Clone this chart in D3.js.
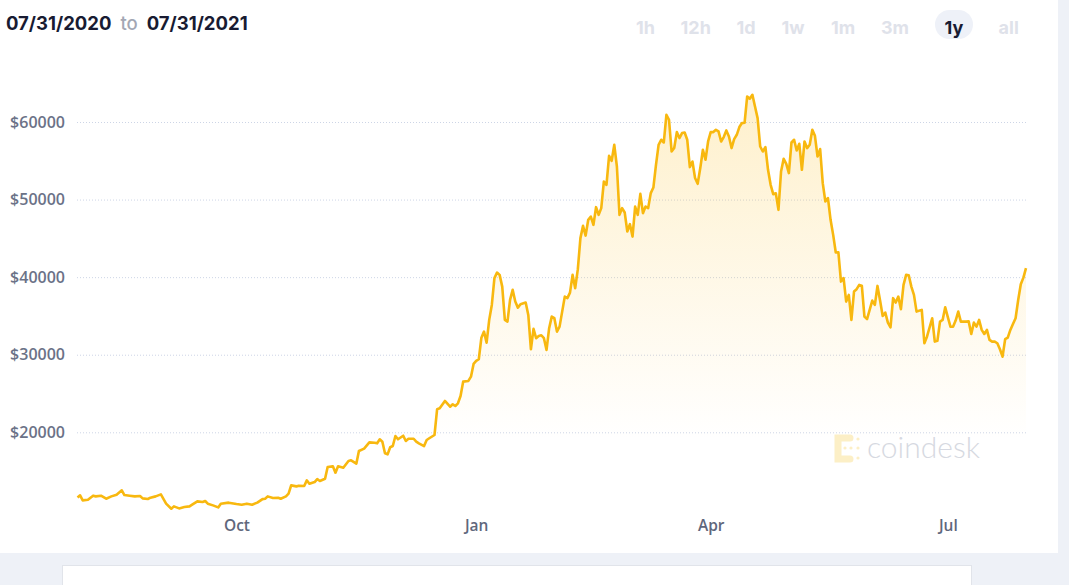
<!DOCTYPE html>
<html>
<head>
<meta charset="utf-8">
<script src="https://cdn.jsdelivr.net/npm/d3@7"></script>
<style>
  body { margin: 0; background: #eef1f7; }
  svg { display: block; }
</style>
</head>
<body>
<svg id="chart"></svg>
<script>
// BTC price, 07/31/2020 - 07/31/2021
var dates = [
  "2020-08-01","2020-08-02","2020-08-03","2020-08-05","2020-08-07","2020-08-08","2020-08-10","2020-08-12",
  "2020-08-14","2020-08-16","2020-08-18","2020-08-19","2020-08-21","2020-08-23","2020-08-25","2020-08-26",
  "2020-08-28","2020-08-29","2020-08-31","2020-09-02","2020-09-04","2020-09-06","2020-09-07","2020-09-09",
  "2020-09-11","2020-09-13","2020-09-14","2020-09-16","2020-09-18","2020-09-19","2020-09-20","2020-09-22",
  "2020-09-24","2020-09-25","2020-09-28","2020-10-01","2020-10-03","2020-10-05","2020-10-07","2020-10-09",
  "2020-10-11","2020-10-12","2020-10-13","2020-10-15","2020-10-17","2020-10-18","2020-10-20","2020-10-21",
  "2020-10-22","2020-10-24","2020-10-25","2020-10-27","2020-10-28","2020-10-29","2020-10-31","2020-11-01",
  "2020-11-02","2020-11-04","2020-11-05","2020-11-07","2020-11-08","2020-11-09","2020-11-11","2020-11-13",
  "2020-11-14","2020-11-16","2020-11-17","2020-11-19","2020-11-21","2020-11-23","2020-11-24","2020-11-25",
  "2020-11-26","2020-11-27","2020-11-28","2020-11-29","2020-11-30","2020-12-01","2020-12-02","2020-12-04",
  "2020-12-05","2020-12-06","2020-12-08","2020-12-09","2020-12-10","2020-12-12","2020-12-13","2020-12-14",
  "2020-12-16","2020-12-17","2020-12-18","2020-12-20","2020-12-22","2020-12-23","2020-12-24","2020-12-25",
  "2020-12-26","2020-12-27","2020-12-29","2020-12-30","2020-12-31","2021-01-01","2021-01-02","2021-01-03",
  "2021-01-04","2021-01-05","2021-01-06","2021-01-07","2021-01-08","2021-01-09","2021-01-10","2021-01-11",
  "2021-01-12","2021-01-13","2021-01-14","2021-01-15","2021-01-16","2021-01-17","2021-01-18","2021-01-20",
  "2021-01-21","2021-01-22","2021-01-23","2021-01-24","2021-01-25","2021-01-26","2021-01-27","2021-01-28",
  "2021-01-29","2021-01-30","2021-01-31","2021-02-01","2021-02-02","2021-02-04","2021-02-05","2021-02-06",
  "2021-02-07","2021-02-08","2021-02-09","2021-02-10","2021-02-11","2021-02-12","2021-02-13","2021-02-14",
  "2021-02-15","2021-02-16","2021-02-17","2021-02-18","2021-02-19","2021-02-20","2021-02-21","2021-02-22",
  "2021-02-23","2021-02-24","2021-02-25","2021-02-26","2021-02-27","2021-02-28","2021-03-01","2021-03-02",
  "2021-03-03","2021-03-04","2021-03-05","2021-03-06","2021-03-07","2021-03-08","2021-03-09","2021-03-10",
  "2021-03-11","2021-03-12","2021-03-13","2021-03-14","2021-03-15","2021-03-16","2021-03-17","2021-03-18",
  "2021-03-19","2021-03-20","2021-03-21","2021-03-22","2021-03-23","2021-03-24","2021-03-25","2021-03-26",
  "2021-03-27","2021-03-28","2021-03-29","2021-03-30","2021-03-31","2021-04-01","2021-04-02","2021-04-03",
  "2021-04-04","2021-04-05","2021-04-06","2021-04-07","2021-04-08","2021-04-09","2021-04-10","2021-04-11",
  "2021-04-12","2021-04-13","2021-04-14","2021-04-15","2021-04-16","2021-04-17","2021-04-18","2021-04-19",
  "2021-04-20","2021-04-21","2021-04-22","2021-04-23","2021-04-24","2021-04-25","2021-04-26","2021-04-27",
  "2021-04-28","2021-04-29","2021-04-30","2021-05-01","2021-05-02","2021-05-03","2021-05-04","2021-05-05",
  "2021-05-06","2021-05-07","2021-05-08","2021-05-09","2021-05-10","2021-05-11","2021-05-12","2021-05-13",
  "2021-05-14","2021-05-15","2021-05-16","2021-05-17","2021-05-18","2021-05-19","2021-05-20","2021-05-21",
  "2021-05-22","2021-05-23","2021-05-24","2021-05-25","2021-05-26","2021-05-27","2021-05-28","2021-05-29",
  "2021-05-30","2021-05-31","2021-06-01","2021-06-02","2021-06-03","2021-06-04","2021-06-05","2021-06-06",
  "2021-06-07","2021-06-08","2021-06-09","2021-06-10","2021-06-11","2021-06-12","2021-06-13","2021-06-14",
  "2021-06-15","2021-06-16","2021-06-17","2021-06-18","2021-06-19","2021-06-21","2021-06-22","2021-06-23",
  "2021-06-25","2021-06-26","2021-06-27","2021-06-28","2021-06-29","2021-06-30","2021-07-01","2021-07-02",
  "2021-07-03","2021-07-04","2021-07-05","2021-07-06","2021-07-08","2021-07-09","2021-07-10","2021-07-11",
  "2021-07-12","2021-07-13","2021-07-14","2021-07-15","2021-07-16","2021-07-17","2021-07-18","2021-07-19",
  "2021-07-20","2021-07-21","2021-07-22","2021-07-23","2021-07-24","2021-07-25","2021-07-26","2021-07-27",
  "2021-07-28","2021-07-29","2021-07-30","2021-07-31"
];
var prices = [
  11600,11870,11230,11300,11830,11740,11830,11440,
  11740,11960,12520,11910,11830,11740,11790,11480,
  11400,11570,11740,12000,10800,10150,10450,10190,
  10360,10450,10670,11100,11010,11140,10800,10580,
  10320,10800,10930,10750,10670,10800,10670,10930,
  11390,11430,11740,11530,11570,11440,11740,12090,
  13160,13030,13120,13070,13800,13370,13590,13970,
  13720,14010,15520,15610,14800,15610,15430,16300,
  16390,15960,17590,17900,18700,18660,18580,19100,
  18790,17290,17160,18070,18230,19520,19100,19560,
  18880,19170,19170,18790,18580,18230,19010,19230,
  19650,22970,23100,24040,23300,23610,23390,23740,
  24680,26530,26620,27170,28810,29200,29420,32200,
  32980,31560,34490,36420,39870,40590,40290,38780,
  34490,34270,37070,38360,36850,36070,36510,36720,
  35130,30710,33330,32130,32420,32510,32130,30620,
  33420,34910,34710,32980,33620,37490,37290,38010,
  40290,38580,41000,45030,46610,45360,47390,47810,
  46740,49020,48030,48900,52330,51900,55640,55000,
  57060,54260,48030,48900,48330,45880,46830,45230,
  49100,48030,50740,48250,49100,48900,50830,51550,
  54480,57060,57710,57360,60930,60290,56200,56640,
  58700,57930,58570,58650,57710,54190,54910,52770,
  52030,54060,56420,55130,57490,58700,58700,59000,
  58800,57490,58060,58910,58130,56640,57800,58350,
  59350,59860,59900,63290,63000,63510,62000,60500,
  56840,56200,56770,53840,51900,50700,50800,48680,
  53620,55260,54610,53410,57360,57710,56330,57190,
  53840,57490,56640,57060,59000,58220,55550,56510,
  52120,49750,50190,47390,45450,43170,43200,39430,
  39870,36850,37710,34490,38140,38450,39000,38900,
  34910,34580,35780,36980,36420,38870,36980,35000,
  35430,34140,33540,37290,36720,37490,35870,39000,
  40290,40250,38780,37710,35560,35780,31480,32330,
  34700,31690,31800,34270,34490,36120,34840,33620,
  33600,34400,35560,34270,34270,34300,32680,34140,
  33620,34490,33200,32680,33200,31910,31690,31690,
  31480,30710,29750,32000,32200,33200,33970,34700,
  37060,39090,39940,41160
];
var yTicks = [20000, 30000, 40000, 50000, 60000];
var xTicks = ["2020-10-01", "2021-01-01", "2021-04-01", "2021-07-01"];
var ranges = ["1h", "12h", "1d", "1w", "1m", "3m", "1y", "all"];
var activeRange = "1y";

var width = 1069, height = 585;
var parse = d3.timeParse("%Y-%m-%d");
var data = dates.map(function(d, i){ return {date: parse(d), price: prices[i]}; });

var svg = d3.select("#chart").attr("width", width).attr("height", height);

// white panel + the card peeking in below
svg.append("rect").attr("x", 0).attr("y", 0).attr("width", 1058).attr("height", 553).attr("fill", "#fff");
svg.append("rect").attr("x", 62.5).attr("y", 565.5).attr("width", 909).attr("height", 40)
  .attr("fill", "#fff").attr("stroke", "#e1e4ea");

var x = d3.scaleTime()
  .domain([parse("2020-08-01"), parse("2021-07-31")])
  .range([77.5, 1026]);
var y = d3.scaleLinear()
  .domain([20000, 60000])
  .range([432.3, 122]);

// header
var head = svg.append("text").attr("x", 6).attr("y", 30)
  .style("font-family", "Inter, 'Open Sans', sans-serif").style("font-size", "18.5px");
head.append("tspan").attr("font-weight", 700).attr("fill", "#181b32").text("07/31/2020");
head.append("tspan").attr("dx", 9).attr("font-weight", 500).attr("fill", "#a3a7b4").text("to");
head.append("tspan").attr("dx", 9).attr("font-weight", 700).attr("fill", "#181b32").text("07/31/2021");

// range buttons
var btnCenters = {"1h": 645.5, "12h": 695.7, "1d": 746, "1w": 793, "1m": 843, "3m": 895, "1y": 954, "all": 1008.7};
svg.append("rect").attr("x", btnCenters[activeRange] - 19).attr("y", 10).attr("width", 38).attr("height", 29)
  .attr("rx", 14.5).attr("fill", "#eef1f8");
svg.selectAll(".btn").data(ranges).enter().append("text")
  .attr("class", "btn")
  .attr("x", function(d){ return btnCenters[d]; })
  .attr("y", 34)
  .attr("text-anchor", "middle")
  .style("font-family", "Inter, 'Open Sans', sans-serif")
  .style("font-size", "18px")
  .style("font-weight", 700)
  .attr("fill", function(d){ return d === activeRange ? "#181b32" : "#dfe2ea"; })
  .text(function(d){ return d; });

// y axis with dotted gridlines
var yAxis = svg.append("g").attr("transform", "translate(77,0)")
  .call(d3.axisLeft(y).tickValues(yTicks).tickSize(-950).tickPadding(12)
    .tickFormat(function(d){ return "$" + d; }));
yAxis.select(".domain").remove();
yAxis.selectAll("line").attr("stroke", "#cdd5e6").attr("stroke-dasharray", "1,2");
yAxis.selectAll("text").attr("fill", "#6b7287")
  .style("font-family", "'Open Sans', sans-serif").style("font-size", "16px").style("font-weight", 600);

// x axis
var xAxis = svg.append("g").attr("transform", "translate(0,518)")
  .call(d3.axisBottom(x).tickValues(xTicks.map(parse)).tickSize(0).tickPadding(2)
    .tickFormat(d3.timeFormat("%b")));
xAxis.select(".domain").remove();
xAxis.selectAll("text").attr("fill", "#5f677c")
  .style("font-family", "'Open Sans', sans-serif").style("font-size", "15.5px").style("font-weight", 600);

// watermark
var wm = svg.append("g").attr("fill", "#fcefc6");
wm.append("path")
  .attr("d", "M850,438 L838,438 L838,459 L850,459")
  .attr("fill", "none").attr("stroke", "#fcefc6").attr("stroke-width", 7).attr("stroke-linecap", "round");
[[845, 448], [851, 448], [858, 439], [858, 448], [858, 458]].forEach(function(p){
  wm.append("circle").attr("cx", p[0]).attr("cy", p[1]).attr("r", 1.6);
});
svg.append("text").attr("x", 867).attr("y", 457.5)
  .style("font-family", "Lato, 'Open Sans', sans-serif").style("font-size", "30px").style("font-weight", 300)
  .attr("fill", "#d6d9e1").text("coindesk");

// area gradient
var grad = svg.append("defs").append("linearGradient").attr("id", "fillGrad")
  .attr("gradientUnits", "userSpaceOnUse").attr("x1", 0).attr("x2", 0).attr("y1", 95).attr("y2", 440);
grad.append("stop").attr("offset", 0).attr("stop-color", "#fbc12a").attr("stop-opacity", 0.24);
grad.append("stop").attr("offset", 1).attr("stop-color", "#fbc12a").attr("stop-opacity", 0);

var area = d3.area()
  .x(function(d){ return x(d.date); })
  .y0(520)
  .y1(function(d){ return y(d.price); });
svg.append("path").datum(data).attr("d", area).attr("fill", "url(#fillGrad)");

var line = d3.line()
  .x(function(d){ return x(d.date); })
  .y(function(d){ return y(d.price); });
svg.append("path").datum(data).attr("d", line)
  .attr("fill", "none").attr("stroke", "#f8b80f").attr("stroke-width", 2.6).attr("stroke-linejoin", "round");
</script>
</body>
</html>
